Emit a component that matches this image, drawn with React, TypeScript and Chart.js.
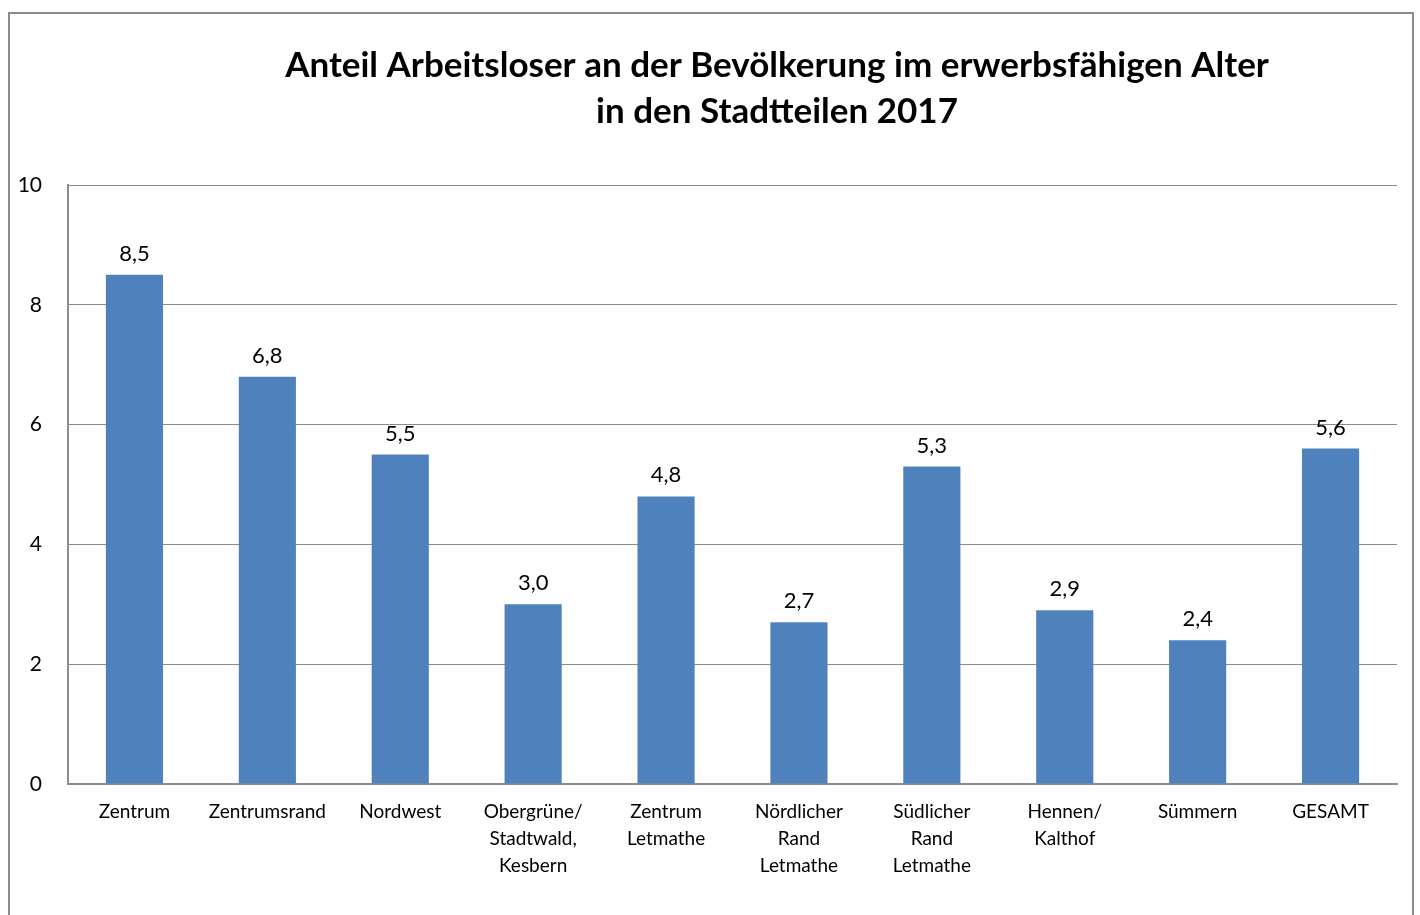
import React, { useEffect, useRef } from "react";
import { Chart, registerables } from "chart.js";

Chart.register(...registerables);

const TITLE_LINES = [
  "Anteil Arbeitsloser an der Bevölkerung im erwerbsfähigen Alter",
  "in den Stadtteilen 2017",
];

const CATEGORIES: string[][] = [
  ["Zentrum"],
  ["Zentrumsrand"],
  ["Nordwest"],
  ["Obergrüne/", "Stadtwald,", "Kesbern"],
  ["Zentrum", "Letmathe"],
  ["Nördlicher", "Rand", "Letmathe"],
  ["Südlicher", "Rand", "Letmathe"],
  ["Hennen/", "Kalthof"],
  ["Sümmern"],
  ["GESAMT"],
];

const VALUES = [8.5, 6.8, 5.5, 3.0, 4.8, 2.7, 5.3, 2.9, 2.4, 5.6];

const Y_MIN = 0;
const Y_MAX = 10;
const Y_STEP = 2;

const FONT = "Lato, 'Noto Sans', sans-serif";

const fmt = (v: number) => v.toFixed(1).replace(".", ",");

const decorPlugin = {
  id: "decor",
  beforeDraw(chart: any) {
    const ctx = chart.ctx;
    ctx.save();
    ctx.fillStyle = "#ffffff";
    ctx.fillRect(0, 0, chart.width, chart.height);
    ctx.strokeStyle = "#8c8c8c";
    ctx.lineWidth = 2;
    ctx.strokeRect(9, 13, 1404, 920);
    ctx.restore();
  },
  afterDraw(chart: any) {
    const ctx = chart.ctx;
    ctx.save();
    ctx.fillStyle = "#000000";
    ctx.textAlign = "center";
    ctx.textBaseline = "alphabetic";
    ctx.font = `bold 35px ${FONT}`;
    ctx.fillText(TITLE_LINES[0], 777, 77);
    ctx.fillText(TITLE_LINES[1], 777, 123);
    // data labels
    const meta = chart.getDatasetMeta(0);
    ctx.font = `22px ${FONT}`;
    meta.data.forEach((bar: any, i: number) => {
      ctx.fillText(fmt(VALUES[i]), bar.x, bar.y - 14);
    });
    ctx.restore();
  },
};

export default function App() {
  const ref = useRef<HTMLCanvasElement | null>(null);
  useEffect(() => {
    document.body.style.margin = "0";
    const canvas = ref.current!;
    const chart = new Chart(canvas, {
      type: "bar",
      data: {
        labels: CATEGORIES,
        datasets: [
          {
            data: VALUES,
            backgroundColor: "#4F81BD",
            borderWidth: 0,
            barPercentage: 0.43,
            categoryPercentage: 1,
          },
        ],
      },
      options: {
        animation: false,
        responsive: false,
        maintainAspectRatio: false,
        layout: { padding: { top: 185, right: 23, left: 0, bottom: 0 } },
        plugins: {
          legend: { display: false },
          tooltip: { enabled: false },
          title: { display: false },
        },
        scales: {
          x: {
            grid: { display: false },
            border: { display: true, color: "#8c8c8c", width: 2 },
            ticks: {
              color: "#000",
              font: { family: FONT, size: 19, lineHeight: 1.4 },
              padding: 7,
              maxRotation: 0,
              autoSkip: false,
            },
            afterFit(scale: any) {
              scale.height = 915 - 784;
            },
          },
          y: {
            min: Y_MIN,
            max: Y_MAX,
            ticks: {
              stepSize: Y_STEP,
              color: "#000",
              font: { family: FONT, size: 21 },
              padding: 26,
            },
            grid: { color: "#8c8c8c", lineWidth: 1, drawTicks: false },
            border: { display: true, color: "#8c8c8c", width: 2 },
            afterFit(scale: any) {
              scale.width = 68;
            },
          },
        },
      },
      plugins: [decorPlugin],
    });
    return () => chart.destroy();
  }, []);
  return (
    <div style={{ position: "relative", width: 1420, height: 915 }}>
      <canvas ref={ref} width={1420} height={915} style={{ display: "block" }} />
    </div>
  );
}
